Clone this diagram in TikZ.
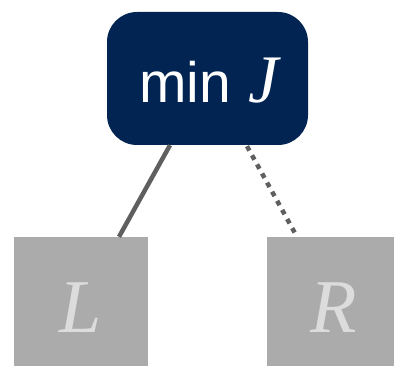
\documentclass[tikz,border=0pt]{standalone}
\usepackage{fontspec}
\setmainfont{Liberation Serif}
\setsansfont{Liberation Sans}
\usetikzlibrary{calc}
\definecolor{navy}{HTML}{022452}
\definecolor{boxgray}{HTML}{ABABAB}
\definecolor{linegray}{HTML}{5F5F5F}
\definecolor{lettergray}{HTML}{DCDCDC}
\begin{document}
\begin{tikzpicture}[x=1pt,y=1pt,
  rootbox/.style={fill=navy,rounded corners=30pt,minimum width=201pt,minimum height=133pt,inner sep=0pt},
  leafbox/.style={fill=boxgray,minimum width=134pt,minimum height=142pt,inner sep=0pt,
    text=lettergray,font=\fontsize{76}{76}\selectfont\itshape},
  edge/.style={draw=linegray,line width=4.5pt},
  dottededge/.style={edge,dash pattern=on 5pt off 5.4pt}]
\useasboundingbox (0,0) rectangle (394,366);
\begin{scope}
\clip (0,0) rectangle (394,366);
\node[rootbox] (root) at (207.5,287.5) {};
\node[anchor=base west,text=white,inner sep=0pt] (rootlabel) at (139,263)
  {\fontsize{57}{57}\selectfont\sffamily min\hspace{17pt}\fontsize{68}{68}\selectfont\rmfamily\itshape J};
\node[leafbox] (L) at (81,58) {L};
\node[leafbox] (R) at (334,58) {R};
\draw[edge] ($(root.south)+(-37.5,0)$) -- ($(L.north)+(38,0)$);
\draw[dottededge] ($(root.south)+(39.5,-1)$) -- ($(R.north)+(-37,0)$);
\end{scope}
\end{tikzpicture}
\end{document}
